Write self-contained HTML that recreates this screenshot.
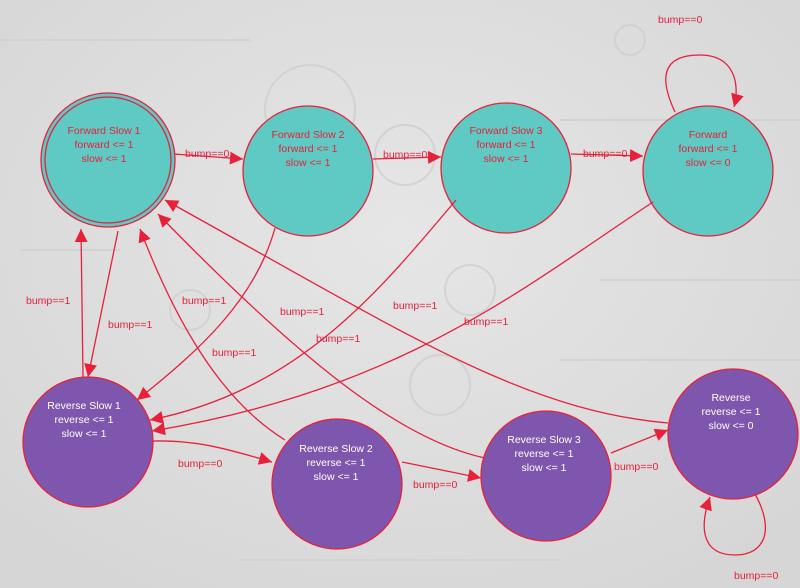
<!DOCTYPE html>
<html><head><meta charset="utf-8"><style>
html,body{margin:0;padding:0;width:800px;height:588px;overflow:hidden;background:#e2e2e2;}
svg{display:block}
text{font-family:"Liberation Sans",sans-serif;font-size:10.5px;text-anchor:middle}
.l{fill:#e8203a;text-anchor:start}
.e{fill:none;stroke:#e8203a;stroke-width:1.3}
</style></head><body>
<svg width="800" height="588" viewBox="0 0 800 588" xmlns="http://www.w3.org/2000/svg">
<defs>
<marker id="a" viewBox="0 0 10 10" refX="10" refY="5" markerWidth="13" markerHeight="13" markerUnits="userSpaceOnUse" orient="auto"><path d="M0,0L10,5L0,10z" fill="#e8203a"/></marker>
<radialGradient id="bg" cx="50%" cy="40%" r="70%"><stop offset="0" stop-color="#e6e6e6"/><stop offset="1" stop-color="#d6d6d6"/></radialGradient>
</defs>
<rect width="800" height="588" fill="url(#bg)"/>
<g fill="none" stroke="#cfcfcf" stroke-width="2" opacity="0.8">
<circle cx="310" cy="110" r="45"/><circle cx="405" cy="155" r="30"/><circle cx="440" cy="385" r="30"/><circle cx="470" cy="290" r="25"/><circle cx="190" cy="310" r="20"/><circle cx="630" cy="40" r="15"/>
<path d="M0 40H250M560 120H800M560 360H800M20 250H120M600 280H800M240 560H560"/>
</g>
<!-- nodes -->
<circle cx="108" cy="160" r="67" fill="#5ecac3" stroke="#e8203a" stroke-width="1.3"/>
<circle cx="108" cy="160" r="63" fill="none" stroke="#e8203a" stroke-width="1.3"/>
<circle cx="308" cy="171" r="65" fill="#5ecac3" stroke="#e8203a" stroke-width="1.3"/>
<circle cx="506" cy="168" r="65" fill="#5ecac3" stroke="#e8203a" stroke-width="1.3"/>
<circle cx="708" cy="171" r="65" fill="#5ecac3" stroke="#e8203a" stroke-width="1.3"/>
<circle cx="88" cy="442" r="65" fill="#7f56ae" stroke="#e8203a" stroke-width="1.3"/>
<circle cx="337" cy="484" r="65" fill="#7f56ae" stroke="#e8203a" stroke-width="1.3"/>
<circle cx="546" cy="476" r="65" fill="#7f56ae" stroke="#e8203a" stroke-width="1.3"/>
<circle cx="733" cy="434" r="65" fill="#7f56ae" stroke="#e8203a" stroke-width="1.3"/>
<!-- edges -->
<path class="e" marker-end="url(#a)" d="M174,154 L243,159"/>
<path class="e" marker-end="url(#a)" d="M373,159 L441,157"/>
<path class="e" marker-end="url(#a)" d="M571,154 L643,156"/>
<path class="e" marker-end="url(#a)" d="M675,112 C660,80 660,55 700,55 C735,55 740,85 734,107"/>
<path class="e" marker-end="url(#a)" d="M83,377 L81,229"/>
<path class="e" marker-end="url(#a)" d="M118,231 L88,377"/>
<path class="e" marker-end="url(#a)" d="M275,228 C255,300 200,350 137,400"/>
<path class="e" marker-end="url(#a)" d="M456,200 C380,290 300,390 150,420"/>
<path class="e" marker-end="url(#a)" d="M653,202 C520,290 400,390 152,431"/>
<path class="e" marker-end="url(#a)" d="M285,440 C220,400 175,320 140,229"/>
<path class="e" marker-end="url(#a)" d="M485,458 C400,440 300,360 158,214"/>
<path class="e" marker-end="url(#a)" d="M668,423 C520,410 400,330 165,200"/>
<path class="e" marker-end="url(#a)" d="M153,441 C200,440 230,450 272,462"/>
<path class="e" marker-end="url(#a)" d="M402,462 L481,478"/>
<path class="e" marker-end="url(#a)" d="M611,453 L668,430"/>
<path class="e" marker-end="url(#a)" d="M755,494 C775,530 765,555 735,555 C700,555 700,525 710,497"/>
<!-- node labels -->
<g fill="#e8203a"><text x="104" y="134">Forward Slow 1</text><text x="104" y="148">forward &lt;= 1</text><text x="104" y="162">slow &lt;= 1</text>
<text x="308" y="138">Forward Slow 2</text><text x="308" y="152">forward &lt;= 1</text><text x="308" y="166">slow &lt;= 1</text>
<text x="506" y="134">Forward Slow 3</text><text x="506" y="148">forward &lt;= 1</text><text x="506" y="162">slow &lt;= 1</text>
<text x="708" y="138">Forward</text><text x="708" y="152">forward &lt;= 1</text><text x="708" y="166">slow &lt;= 0</text></g>
<g fill="#ffffff"><text x="84" y="409">Reverse Slow 1</text><text x="84" y="423">reverse &lt;= 1</text><text x="84" y="437">slow &lt;= 1</text>
<text x="336" y="452">Reverse Slow 2</text><text x="336" y="466">reverse &lt;= 1</text><text x="336" y="480">slow &lt;= 1</text>
<text x="544" y="443">Reverse Slow 3</text><text x="544" y="457">reverse &lt;= 1</text><text x="544" y="471">slow &lt;= 1</text>
<text x="731" y="401">Reverse</text><text x="731" y="415">reverse &lt;= 1</text><text x="731" y="429">slow &lt;= 0</text></g>
<!-- edge labels -->
<text class="l" x="185" y="157">bump==0</text>
<text class="l" x="383" y="158">bump==0</text>
<text class="l" x="583" y="157">bump==0</text>
<text class="l" x="658" y="23">bump==0</text>
<text class="l" x="26" y="304">bump==1</text>
<text class="l" x="108" y="328">bump==1</text>
<text class="l" x="182" y="304">bump==1</text>
<text class="l" x="280" y="315">bump==1</text>
<text class="l" x="212" y="356">bump==1</text>
<text class="l" x="316" y="342">bump==1</text>
<text class="l" x="393" y="309">bump==1</text>
<text class="l" x="464" y="325">bump==1</text>
<text class="l" x="178" y="467">bump==0</text>
<text class="l" x="413" y="488">bump==0</text>
<text class="l" x="614" y="470">bump==0</text>
<text class="l" x="734" y="579">bump==0</text>
</svg>
</body></html>
